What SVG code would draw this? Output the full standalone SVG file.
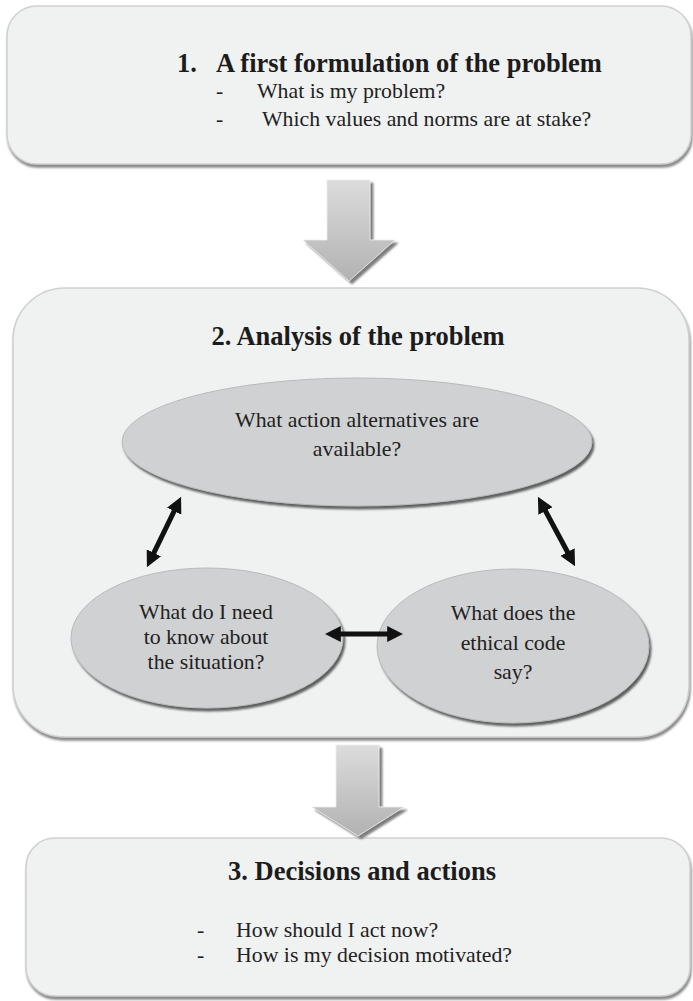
<svg xmlns="http://www.w3.org/2000/svg" width="693" height="1001" viewBox="0 0 693 1001">
  <style>
    .box { fill: #f0f1f1; stroke: #cfd0d0; stroke-width: 1.5; filter: url(#boxShadow); }
    .oval { fill: #d0d1d3; stroke: #b9babb; stroke-width: 1; filter: url(#ovalShadow); }
    text { font-family: "Liberation Serif", Tinos, "Times New Roman", "DejaVu Serif", serif; }
    .title { font-weight: bold; font-size: 26.5px; fill: #1c1c1c; }
    .body { font-size: 21.8px; fill: #222; }
    .mid { text-anchor: middle; }
    .link { stroke: #111; stroke-width: 5; fill: none; marker-start: url(#head); marker-end: url(#head); }
    .flow { fill: url(#flowFill); stroke: #eeeeee; stroke-width: 0.8; filter: url(#arrowShadow); }
  </style>
  <defs>
    <filter id="boxShadow" x="-5%" y="-5%" width="110%" height="115%">
      <feDropShadow dx="1" dy="3" stdDeviation="1.2" flood-color="#7d7d7d" flood-opacity="0.9"/>
    </filter>
    <filter id="ovalShadow" x="-5%" y="-5%" width="110%" height="115%">
      <feDropShadow dx="2" dy="3" stdDeviation="0.8" flood-color="#5e5e5e" flood-opacity="1"/>
    </filter>
    <filter id="arrowShadow" x="-20%" y="-10%" width="140%" height="130%">
      <feDropShadow dx="3" dy="3" stdDeviation="1.2" flood-color="#6e6e6e" flood-opacity="0.9"/>
    </filter>
    <linearGradient id="flowFill" x1="0" y1="0" x2="0" y2="1">
      <stop offset="0" stop-color="#dcdcdc"/>
      <stop offset="1" stop-color="#b2b2b2"/>
    </linearGradient>
    <marker id="head" viewBox="0 0 10 10" refX="3" refY="5" markerWidth="3.2" markerHeight="3.2" orient="auto-start-reverse">
      <path d="M0,0 L10,5 L0,10 z" fill="#111"/>
    </marker>
  </defs>

  <rect width="693" height="1001" fill="#ffffff"/>

  <!-- step 1 -->
  <g id="step1">
    <rect class="box" x="7" y="6" width="684" height="158" rx="30" ry="30"/>
    <text class="title" x="177" y="72">1.</text>
    <text class="title" x="216" y="72">A first formulation of the problem</text>
    <text class="body" x="216" y="98">-</text>
    <text class="body" x="257" y="98">What is my problem?</text>
    <text class="body" x="216" y="126">-</text>
    <text class="body" x="262" y="126">Which values and norms are at stake?</text>
  </g>

  <!-- step 2 container -->
  <g id="step2">
    <rect class="box" x="13" y="288" width="676" height="449" rx="52" ry="52"/>
    <text class="title mid" x="358" y="345">2. Analysis of the problem</text>
  </g>

  <g id="alternatives">
    <ellipse class="oval" cx="357" cy="442" rx="235" ry="64"/>
    <text class="body mid" x="357" y="427">What action alternatives are</text>
    <text class="body mid" x="357" y="456">available?</text>
  </g>

  <g id="knowledge">
    <ellipse class="oval" cx="207" cy="638" rx="136" ry="70"/>
    <text class="body mid" x="206" y="619">What do I need</text>
    <text class="body mid" x="206" y="644">to know about</text>
    <text class="body mid" x="206" y="669">the situation?</text>
  </g>

  <g id="code">
    <ellipse class="oval" cx="513" cy="646" rx="136" ry="77"/>
    <text class="body mid" x="513" y="620">What does the</text>
    <text class="body mid" x="513" y="650">ethical code</text>
    <text class="body mid" x="513" y="679">say?</text>
  </g>

  <!-- step 3 -->
  <g id="step3">
    <rect class="box" x="26" y="838" width="664" height="158" rx="29" ry="29"/>
    <text class="title mid" x="362" y="880">3. Decisions and actions</text>
    <text class="body" x="197" y="937">-</text>
    <text class="body" x="236" y="937">How should I act now?</text>
    <text class="body" x="197" y="962">-</text>
    <text class="body" x="236" y="962">How is my decision motivated?</text>
  </g>

  <!-- connectors -->
  <g id="connectors">
    <polygon class="flow" points="327,180 370,180 370,240 395,240 349,281 303,240 327,240"/>
    <polygon class="flow" points="336,745 379,745 379,807 404,807 358,836 312,807 336,807"/>
    <line class="link" x1="151.8" y1="557.1" x2="176.2" y2="506.9"/>
    <line class="link" x1="543.2" y1="506.7" x2="569.8" y2="556.3"/>
    <line class="link" x1="336" y1="634" x2="392" y2="634"/>
  </g>
</svg>
